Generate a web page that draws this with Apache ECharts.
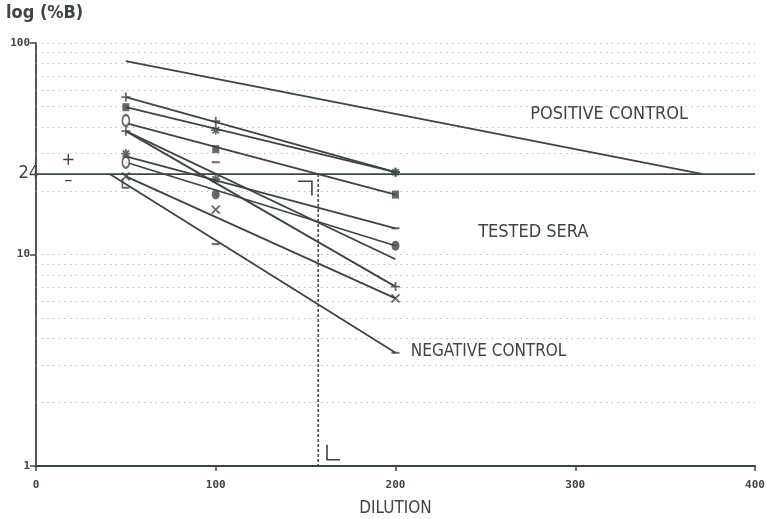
<!DOCTYPE html>
<html>
<head>
<meta charset="utf-8">
<script src="https://cdn.jsdelivr.net/npm/echarts@6/dist/echarts.min.js"></script>
<style>
  html, body { margin: 0; padding: 0; background: #ffffff; overflow: hidden; }
  #chart { width: 767px; height: 519px; }
</style>
</head>
<body>
<div id="chart"></div>
<script>
// ---- data -------------------------------------------------------------
const X_TICKS = [0, 100, 200, 300, 400];
const GRID_LEVELS = [2, 3, 4, 5, 6, 7, 8, 9, 10, 20, 30, 40, 50, 60, 70, 80, 90, 100];

const CUTOFF = 24;              // %B cut-off level
const CUTOFF_DILUTION = 157;    // dilution where the reference serum crosses the cut-off

// tested sera: fitted lines from dilution 50 to dilution 200
const SERA_START_DIL = 50;
const SERA_END_DIL = 200;
const SERA_START = [55.5, 49.7, 41.8, 38.3, 38.3, 29.1, 27.3, 23.4];
const SERA_END   = [24.5, 24.5, 19.2, 7.05, 9.5, 13.3, 11.0, 6.2];

// controls (extrapolated to the cut-off)
const POS_DIL = [50, 371];
const POS_VAL = [82, 24];
const NEG_DIL = [41, 200];
const NEG_VAL = [24, 3.43];

// measured points per dilution, with their plot symbol
const PTS_DIL = [50, 100, 200];
const PTS_50  = [55.5, 49.7, 43.0, 38.3, 30.0, 27.3, 23.4, 21.7];
const KIND_50 = ['plus', 'square', 'ring', 'plus', 'star', 'ring', 'cross', 'ell'];
const PTS_100  = [42.7, 38.7, 31.5, 27.3, 22.7, 19.2, 16.3, 11.2];
const KIND_100 = ['plus', 'star', 'square', 'dash', 'star', 'dot', 'cross', 'dash'];
const PTS_200  = [24.5, 24.5, 19.2, 13.3, 11.0, 7.05, 6.2, 3.43];
const KIND_200 = ['plus', 'star', 'square', 'dash', 'dot', 'plus', 'cross', 'dash'];

// ---- styling ----------------------------------------------------------
const INK = '#3b4641';
const DOTS = '#a9aba9';
const FONT = '"DejaVu Sans Condensed", "Liberation Sans Narrow", "DejaVu Sans", sans-serif';
const TICK_FONT = '"DejaVu Sans Mono", monospace';

const SYMBOLS = {
  plus:   { symbol: 'path://M5,0L5,10M0,5L10,5', size: 9, stroke: true },
  cross:  { symbol: 'path://M0,0L10,10M10,0L0,10', size: 8, stroke: true },
  star:   { symbol: 'path://M5,0L5,10M0,5L10,5M1.5,1.5L8.5,8.5M8.5,1.5L1.5,8.5', size: 9, stroke: true },
  ell:    { symbol: 'path://M0,0L0,10L7,10', size: [7, 9], stroke: true },
  square: { symbol: 'rect', size: [7, 8], stroke: false },
  dot:    { symbol: 'circle', size: [8, 10], stroke: false },
  ring:   { symbol: 'emptyCircle', size: [7, 11], stroke: false, ring: true },
  dash:   { symbol: 'rect', size: [8, 2], stroke: false }
};

// ---- series -----------------------------------------------------------
const series = [];

// cut-off line, carrying the dotted horizontal grid as mark lines
series.push({
  type: 'line',
  data: [[X_TICKS[0], CUTOFF], [X_TICKS[X_TICKS.length - 1], CUTOFF]],
  showSymbol: false,
  silent: true,
  lineStyle: { color: INK, width: 1.8 },
  z: 3,
  markLine: {
    silent: true,
    symbol: ['none', 'none'],
    label: { show: false },
    lineStyle: { color: DOTS, width: 1.2, type: [1.2, 4.5] },
    data: GRID_LEVELS.map(v => ({ yAxis: v })),
    z: 1
  }
});

// vertical dashed drop from the cut-off crossing
series.push({
  type: 'line',
  data: [[CUTOFF_DILUTION, CUTOFF], [CUTOFF_DILUTION, 1]],
  showSymbol: false,
  silent: true,
  lineStyle: { color: INK, width: 1.5, type: [3, 2] },
  z: 3
});

// positive and negative controls
series.push({
  type: 'line',
  data: POS_DIL.map((d, i) => [d, POS_VAL[i]]),
  showSymbol: false, silent: true,
  lineStyle: { color: INK, width: 1.8 }, z: 4
});
series.push({
  type: 'line',
  data: NEG_DIL.map((d, i) => [d, NEG_VAL[i]]),
  showSymbol: false, silent: true,
  lineStyle: { color: INK, width: 1.8 }, z: 4
});

// tested sera
SERA_START.forEach((v, i) => {
  series.push({
    type: 'line',
    data: [[SERA_START_DIL, v], [SERA_END_DIL, SERA_END[i]]],
    showSymbol: false, silent: true,
    lineStyle: { color: INK, width: 1.8 }, z: 4
  });
});

// measured points grouped by symbol
const groups = {};
[[PTS_50, KIND_50], [PTS_100, KIND_100], [PTS_200, KIND_200]].forEach(([vals, kinds], j) => {
  vals.forEach((v, i) => {
    (groups[kinds[i]] = groups[kinds[i]] || []).push([PTS_DIL[j], v]);
  });
});
Object.keys(groups).forEach(kind => {
  const s = SYMBOLS[kind];
  series.push({
    type: 'scatter',
    data: groups[kind],
    symbol: s.symbol,
    symbolSize: s.size,
    silent: true,
    z: 6,
    itemStyle: s.stroke
      ? { color: 'rgba(0,0,0,0)', borderColor: INK, borderWidth: 1.8 }
      : s.ring
        ? { color: INK, borderColor: INK, borderWidth: 1.8 }
        : { color: INK }
  });
});

// ---- chart ------------------------------------------------------------
const chart = echarts.init(document.getElementById('chart'), null, { renderer: 'canvas' });

chart.setOption({
  animation: false,
  backgroundColor: '#ffffff',
  grid: { left: 36, right: 12, top: 43, bottom: 53, containLabel: false, outerBoundsMode: 'none' },
  xAxis: {
    type: 'value',
    min: X_TICKS[0],
    max: X_TICKS[X_TICKS.length - 1],
    interval: 100,
    name: 'DILUTION',
    nameLocation: 'middle',
    nameGap: 34,
    nameTextStyle: { color: INK, fontFamily: FONT, fontSize: 17 },
    axisLine: { lineStyle: { color: INK, width: 1.8 } },
    axisTick: { show: true, length: 5, lineStyle: { color: INK, width: 1.5 } },
    axisLabel: { color: INK, fontFamily: TICK_FONT, fontWeight: 'bold', fontSize: 11, margin: 14 },
    splitLine: { show: false }
  },
  yAxis: {
    type: 'log',
    logBase: 10,
    min: 1,
    max: 100,
    axisLine: { show: true, lineStyle: { color: INK, width: 1.8 } },
    axisTick: { show: true, length: 6, lineStyle: { color: INK, width: 1.5 } },
    axisLabel: { color: INK, fontFamily: TICK_FONT, fontWeight: 'bold', fontSize: 11, margin: 6 },
    splitLine: { show: false }
  },
  series: series
});

// ---- annotations, anchored to data coordinates -------------------------
function px(d, v) { return chart.convertToPixel({ gridIndex: 0 }, [d, v]); }

const text = (pos, str, extra) => ({
  type: 'text',
  x: pos[0], y: pos[1],
  silent: true,
  style: Object.assign({
    text: str, fill: INK, font: '18px ' + FONT,
    textAlign: 'left', textVerticalAlign: 'middle'
  }, extra || {})
});

const cutY = px(0, CUTOFF)[1];
const bracketTop = [px(145.8, 22.2), px(153.5, 22.2), px(153.5, 19.0)];
const bracketBottom = [px(161.9, 1.26), px(161.9, 1.07), px(169.1, 1.07)];

chart.setOption({
  graphic: [
    text([6, 13], 'log (%B)', { font: 'bold 18px ' + FONT }),
    text([39, cutY - 1], '24', { font: '18px ' + FONT, textAlign: 'right' }),
    text(px(275, 46), 'POSITIVE CONTROL'),
    text(px(246, 12.7), 'TESTED SERA'),
    text(px(208.5, 3.47), 'NEGATIVE CONTROL', { font: '17px ' + FONT }),
    text(px(18, 27.8), '+', { textAlign: 'center' }),
    text(px(18, 22.4), '\u2013', { textAlign: 'center' }),
    { type: 'polyline', silent: true, shape: { points: bracketTop },
      style: { stroke: INK, lineWidth: 1.6, fill: null } },
    { type: 'polyline', silent: true, shape: { points: bracketBottom },
      style: { stroke: INK, lineWidth: 1.6, fill: null } }
  ]
});
</script>
</body>
</html>
